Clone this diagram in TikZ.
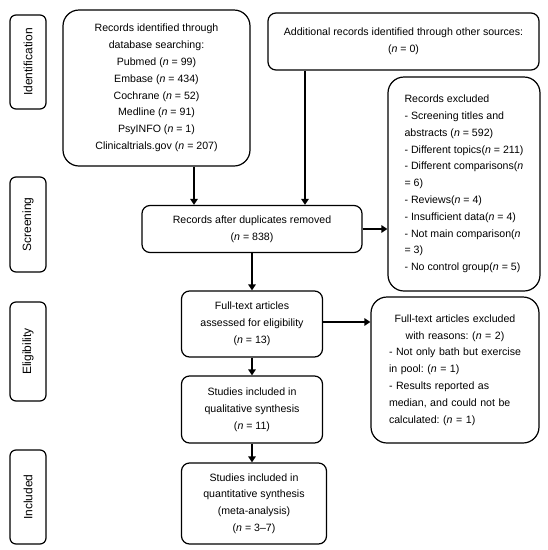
\documentclass[tikz,border=0pt]{standalone}
\usepackage{fontspec}
\setmainfont{Liberation Sans}
\usetikzlibrary{arrows.meta, positioning, calc}
\frenchspacing
\tikzstyle{stage} = [rectangle, rounded corners=6pt, draw=black, line width=1.2pt, minimum height=36pt, rotate=90, font=\fontsize{12}{14}\selectfont]
\tikzstyle{bigbox} = [rectangle, rounded corners=16pt, draw=black, line width=1.2pt, align=center, font=\fontsize{10.6}{16.8}\selectfont]
\tikzstyle{box} = [rectangle, rounded corners=8pt, draw=black, line width=1.2pt, align=center, font=\fontsize{10.6}{16.8}\selectfont]
\tikzstyle{arrow} = [line width=2.4pt, -{Triangle[length=6pt, width=7.5pt]}]
\newcommand{\nn}{\textit{n}}

\begin{document}
\begin{tikzpicture}[x=1pt, y=-1pt, node distance=85pt]
\useasboundingbox (0,0) rectangle (548,550);
% stages on the left
\node (ident) [stage, minimum width=94pt] at (28,62) {Identification};
\node (screen) [stage, minimum width=95pt] at (28,224.5) {Screening};
\node (elig) [stage, minimum width=99pt] at (28,351.5) {Eligibility};
\node (incl) [stage, minimum width=94pt] at (28,497) {Included};
% identification
\node (rid) [bigbox, minimum width=187pt, minimum height=156pt] at (156.5,88) {Records identified through\\ database searching:\\ Pubmed (\nn{} = 99)\\ Embase (\nn{} = 434)\\ Cochrane (\nn{} = 52)\\ Medline (\nn{} = 91)\\ PsyINFO (\nn{} = 1)\\ Clinicaltrials.gov (\nn{} = 207)};
\node (add) [box, minimum width=271pt, minimum height=57pt, yshift=2pt] at (403.5,43.5) {Additional records identified through other sources:\\ (\nn{} = 0)};
% screening
\node (dup) [box, minimum width=220pt, minimum height=47pt] at (252,229) {Records after duplicates removed\\ (\nn{} = 838)};
\node (exc) [bigbox, align=left, minimum width=152pt, minimum height=214pt] at (464,184) {Records excluded\\ - Screening titles and\\ abstracts (\nn{} = 592)\\ - Different topics(\nn{} = 211)\\ - Different comparisons(\nn\\ = 6)\\ - Reviews(\nn{} = 4)\\ - Insufficient data(\nn{} = 4)\\ - Not main comparison(\nn\\ = 3)\\ - No control group(\nn{} = 5)};
% eligibility and included
\node (full) [box, minimum width=141pt, minimum height=66pt, below of=dup, yshift=-10pt] {Full-text articles\\ assessed for eligibility\\ (\nn{} = 13)};
\node (qual) [box, minimum width=141pt, minimum height=67pt, below of=full, yshift=-0.5pt] {Studies included in\\ qualitative synthesis\\ (\nn{} = 11)};
\node (quant) [box, minimum width=145pt, minimum height=81pt, below of=qual, yshift=-9pt, xshift=2pt] {Studies included in\\ quantitative synthesis\\ (meta-analysis)\\ (\nn{} = 3--7)};
\node (fexc) [bigbox, align=left, text width=132pt, minimum width=168pt, minimum height=146pt] at (455,370) {\parindent=0pt{\centering Full-text articles excluded\\ with reasons: (\nn{} = 2)\par}- Not only bath but exercise\\ in pool: (\nn{} = 1)\\ - Results reported as\\ median, and could not be\\ calculated: (\nn{} = 1)};
% arrows
\draw [arrow] ([xshift=37.5pt]rid.south) -- ([xshift=37.5pt]rid.south |- dup.north);
\draw [arrow] ([xshift=-98.5pt]add.south) -- ([xshift=-98.5pt]add.south |- dup.north);
\draw [arrow] (dup.east) -- (dup.east -| exc.west);
\draw [arrow] (dup.south) -- (full.north);
\draw [arrow] ([yshift=2pt]full.east) -- ([yshift=2pt]full.east -| fexc.west);
\draw [arrow] (full.south) -- (qual.north);
\draw [arrow] (qual.south) -- (qual.south |- quant.north);
\end{tikzpicture}
\end{document}
